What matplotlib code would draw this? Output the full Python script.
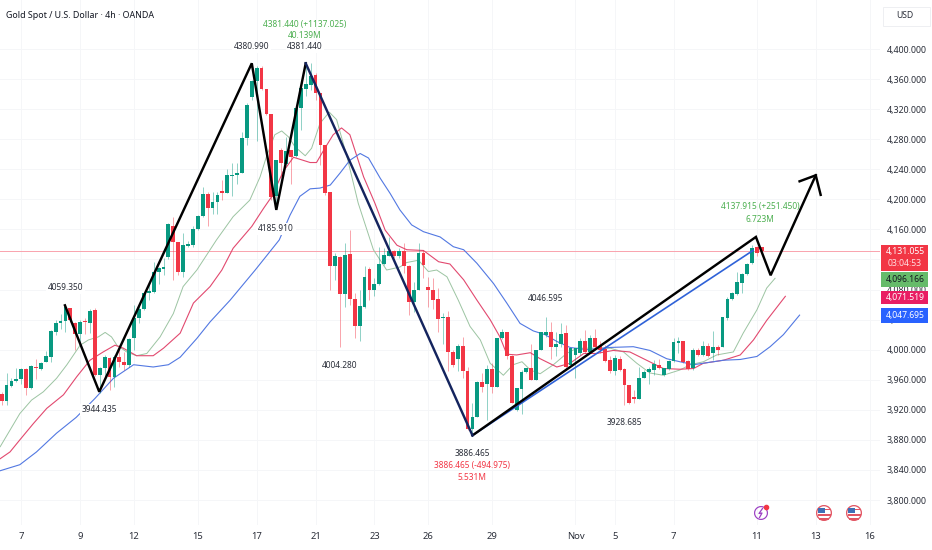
import matplotlib
matplotlib.use('Agg')
import matplotlib.pyplot as plt
from matplotlib.patches import Rectangle, Wedge

plt.rcParams['font.family'] = ['Noto Sans', 'DejaVu Sans']

# 4h candles
opens = [3941, 3932, 3952, 3958, 3961, 3974, 3949, 3977, 3974, 3984, 3990, 4024, 4035, 4038, 4055, 4035,
         4021, 4038, 4036, 4053, 3966, 3975, 3989, 3964, 3990, 3984, 3980, 4015, 4042, 4054, 4076, 4077,
         4104, 4108, 4123, 4165, 4143, 4104, 4138, 4139, 4161, 4178, 4207, 4188, 4197, 4211, 4209, 4231,
         4232, 4235, 4281, 4336, 4357, 4375, 4347, 4314, 4204, 4266, 4247, 4266, 4258, 4322, 4347, 4352,
         4366, 4341, 4272, 4210, 4111, 4123, 4074, 4127, 4068, 4032, 4057, 4108, 4080, 4087, 4114, 4125,
         4131, 4124, 4131, 4111, 4064, 4080, 4128, 4084, 4079, 4067, 4042, 4044, 3997, 3988, 4005, 3972,
         3894, 3911, 3957, 3954, 3974, 3950, 4015, 4024, 3991, 3920, 3948, 3970, 3975, 3960, 4000, 4020,
         4023, 4003, 4008, 4022, 3979, 3993, 3995, 4012, 3997, 4015, 4005, 4001, 3986, 3971, 3988, 3974,
         3953, 3937, 3935, 3962, 3970, 3973, 3980, 3966, 3974, 3985, 4009, 4011, 3985, 3976, 4000, 3993,
         4005, 3995, 4004, 4003, 4042, 4067, 4074, 4089, 4101, 4115, 4136, 4136]
highs = [3944, 3969, 3962, 3975, 3975, 3975, 3980, 3988, 3984, 3998, 4026, 4039, 4048, 4059, 4056, 4037,
         4039, 4042, 4054, 4056, 3977, 3993, 3990, 3993, 4006, 3997, 4015, 4059, 4062, 4077, 4088, 4117,
         4110, 4122, 4168, 4177, 4143, 4155, 4144, 4164, 4179, 4217, 4210, 4210, 4210, 4226, 4241, 4248,
         4248, 4290, 4328, 4359, 4377, 4377, 4347, 4314, 4253, 4268, 4283, 4266, 4323, 4349, 4379, 4381,
         4368, 4341, 4272, 4210, 4129, 4125, 4142, 4159, 4075, 4079, 4111, 4110, 4096, 4136, 4135, 4150,
         4133, 4135, 4142, 4113, 4090, 4142, 4133, 4097, 4095, 4082, 4049, 4051, 4000, 4008, 4017, 3977,
         3929, 3958, 3969, 3980, 3982, 4015, 4028, 4024, 3993, 3949, 3973, 3975, 4008, 4000, 4024, 4044,
         4037, 4024, 4035, 4033, 4002, 4002, 4015, 4026, 4020, 4028, 4012, 4006, 3991, 3993, 3991, 3975,
         3953, 3946, 3977, 3973, 3977, 3986, 3988, 3976, 3986, 4015, 4017, 4011, 3986, 4002, 4002, 4011,
         4009, 4025, 4006, 4044, 4070, 4077, 4104, 4102, 4115, 4139, 4138, 4137]
lows = [3926, 3926, 3951, 3957, 3955, 3940, 3948, 3961, 3973, 3983, 3983, 4020, 4028, 4024, 4037, 4000,
        4006, 4021, 4022, 3965, 3942, 3964, 3946, 3951, 3977, 3973, 3977, 4000, 4035, 4053, 4066, 4075,
        4088, 4100, 4121, 4093, 4099, 4097, 4137, 4137, 4159, 4177, 4164, 4181, 4181, 4199, 4208, 4204,
        4221, 4235, 4272, 4332, 4277, 4345, 4312, 4199, 4188, 4230, 4246, 4221, 4257, 4292, 4337, 4345,
        4332, 4246, 4206, 4079, 4093, 4004, 4057, 4060, 4015, 4011, 4055, 4066, 4071, 4086, 4113, 4124,
        4122, 4122, 4102, 4046, 4050, 4079, 4095, 4057, 4054, 4024, 4008, 3971, 3977, 3971, 3963, 3893,
        3886, 3911, 3944, 3906, 3942, 3950, 4014, 3988, 3929, 3918, 3915, 3969, 3960, 3960, 3999, 4017,
        3988, 3991, 4003, 3975, 3978, 3962, 3993, 3995, 3995, 4000, 3996, 3984, 3969, 3966, 3972, 3926,
        3928, 3929, 3934, 3962, 3955, 3966, 3974, 3965, 3973, 3984, 3995, 3982, 3973, 3973, 3991, 3991,
        3990, 3986, 3993, 4003, 4039, 4066, 4073, 4075, 4099, 4114, 4124, 4126]
closes = [3932, 3953, 3958, 3961, 3974, 3949, 3978, 3975, 3982, 3991, 4025, 4035, 4038, 4057, 4039, 4021,
          4037, 4037, 4052, 3966, 3975, 3990, 3964, 3990, 3984, 3980, 4014, 4042, 4054, 4076, 4078, 4104,
          4109, 4110, 4167, 4143, 4104, 4139, 4141, 4161, 4178, 4207, 4188, 4197, 4206, 4209, 4232, 4232,
          4235, 4281, 4325, 4357, 4375, 4347, 4314, 4203, 4252, 4248, 4264, 4257, 4321, 4348, 4354, 4364,
          4341, 4272, 4209, 4111, 4124, 4074, 4126, 4068, 4032, 4058, 4097, 4080, 4088, 4114, 4126, 4131,
          4124, 4131, 4111, 4064, 4080, 4128, 4113, 4079, 4066, 4041, 4044, 3997, 3980, 4005, 3972, 3895,
          3911, 3957, 3951, 3974, 3950, 4015, 4024, 3991, 3929, 3949, 3970, 3975, 3960, 4000, 4024, 4023,
          4004, 4008, 4021, 3977, 4002, 4002, 4012, 3997, 4015, 4004, 4000, 3985, 3971, 3989, 3973, 3953,
          3929, 3935, 3963, 3970, 3974, 3981, 3975, 3975, 3985, 4010, 4011, 3984, 3974, 3999, 3993, 4005,
          3992, 4003, 3999, 4043, 4068, 4075, 4090, 4101, 4114, 4135, 4129, 4131]

# moving averages, bar position and price
ma_green_x = [-0.3, 1.7, 3.7, 6.1, 8.5, 11.2, 13.3, 16.0, 17.7, 19.7, 21.1, 22.4, 23.5, 25.5, 27.5, 29.6, 32.3,
              35.0, 37.0, 39.8, 43.8, 47.2, 50.6, 52.7, 54.0, 55.7, 57.1, 58.5, 59.8, 61.9, 63.2, 64.9, 66.8,
              68.3, 70.4, 72.7, 75.8, 78.5, 81.2, 82.6, 85.0, 87.0, 88.7, 90.8, 93.1, 95.5, 97.6, 99.6, 102.3,
              104.3, 106.1, 107.8, 109.8, 112.5, 115.2, 117.3, 120.6, 124.1, 126.8, 129.5, 132.2, 134.9, 138.3,
              140.4, 143.1, 145.8, 149.2, 151.2, 154.0, 156.0, 157.7]
ma_green_y = [3871, 3893, 3915, 3933, 3944, 3962, 3980, 4006, 4013, 4017, 4023, 4017, 4006, 3997, 3992, 3995, 4017,
              4048, 4084, 4106, 4146, 4177, 4199, 4230, 4257, 4286, 4291, 4283, 4270, 4258, 4268, 4301, 4316,
              4306, 4257, 4195, 4133, 4106, 4110, 4116, 4119, 4104, 4106, 4097, 4066, 4031, 4013, 3982, 3966,
              3980, 3984, 3973, 3968, 3980, 3995, 4002, 4002, 4002, 3997, 3982, 3969, 3966, 3973,
              3980, 3984, 3993, 3997, 4022, 4053, 4082, 4095]
ma_red_x = [-0.3, 1.7, 3.7, 6.5, 9.2, 12.6, 15.3, 18.0, 20.7, 23.1, 24.8, 27.5, 30.9, 33.0, 36.4, 39.1, 42.5, 44.9,
            47.2, 51.0, 53.4, 55.1, 57.4, 59.5, 62.9, 64.2, 65.9, 67.6, 69.3, 71.0, 73.8, 76.1, 78.2, 80.6, 82.6,
            86.0, 89.1, 91.4, 94.2, 96.9, 99.6, 101.6, 103.0, 105.0, 107.8, 109.8, 113.2, 115.9, 118.7, 121.3,
            124.7, 128.1, 131.5, 134.9, 138.3, 141.1, 143.1, 147.2, 150.6, 153.3, 156.0, 159.8]
ma_red_y = [3855, 3864, 3880, 3902, 3922, 3940, 3964, 3986, 3997, 4006, 4002, 3992, 3992, 4002, 4022, 4062, 4084, 4106,
            4135, 4164, 4188, 4204, 4237, 4256, 4249, 4249, 4268, 4286, 4295, 4286, 4230, 4195, 4159, 4139, 4133,
            4132, 4117, 4114, 4093, 4066, 4040, 4017, 3994, 3993, 3996, 3988, 3977, 3982, 3995, 3995,
            3999, 3997, 3986, 3975, 3974, 3975, 3982, 3986, 3993, 4013, 4039, 4071]
ma_blue_x = [-0.3, 3.7, 7.1, 11.2, 15.2, 19.0, 22.8, 26.9, 30.9, 34.0, 36.4, 39.8, 42.5, 46.6, 51.7, 56.6, 58.8, 60.8,
             62.9, 64.9, 67.0, 69.0, 71.0, 73.1, 74.8, 77.2, 79.2, 81.2, 83.6, 86.0, 89.4, 92.1, 94.2, 96.9, 100.3,
             103.0, 105.7, 108.4, 110.8, 113.2, 115.9, 119.3, 124.1, 128.8, 132.2, 135.6, 138.3, 141.1, 143.1,
             147.2, 150.6, 154.0, 156.7, 159.4, 162.7]
ma_blue_y = [3839, 3847, 3864, 3889, 3910, 3935, 3962, 3980, 3977, 3980, 3990, 4015, 4037, 4066, 4106, 4146, 4179, 4204,
             4214, 4215, 4219, 4235, 4252, 4261, 4255, 4228, 4208, 4186, 4166, 4157, 4150, 4137, 4133, 4115, 4088,
             4062, 4035, 4025, 4020, 4011, 4003, 4000, 4003, 4004, 3999, 3988, 3984, 3980, 3982,
             3986, 3987, 3991, 4004, 4020, 4046]

# hand drawn lines on the chart
zigzag_x = [12.9, 19.9, 51.0, 56.0, 62.0]
zigzag_y = [4059, 3944, 4381, 4186, 4381]
navy_x = [62.0, 96.0]
navy_y = [4381, 3886]
channel_x = [96.0, 153.2]
channel_y = [3886, 4132]
forecast_x = [96.0, 153.8, 156.8, 166.0]
forecast_y = [3886, 4150, 4099, 4232]
arrow_x = [162.7, 166.0, 167.0]
arrow_y = [4224, 4232, 4206]

price_ticks = list(range(3800, 4401, 40))
date_pos = [4, 16, 27, 40, 52, 64, 76, 87, 100, 117, 125, 137, 154, 166, 177]
date_labels = ['7', '9', '12', '15', '17', '21', '23', '26', '29', 'Nov', '5', '7', '11', '13', '16']
last_price = 4131.055

UP = '#089981'
DOWN = '#f23645'
TEXT = '#2a2e39'

fig = plt.figure(figsize=(9.32, 5.5), dpi=100)
ax = fig.add_axes([0, 25 / 550, 880 / 932, 525 / 550])
ax.set_xlim(-0.34, 179.1)
ax.set_ylim(3766.8, 4465.2)

# 4,120 sits fully behind the last price badge
ax.set_yticks(price_ticks)
ax.set_yticklabels(['' if p == 4120 else '{:,.3f}'.format(p) for p in price_ticks])
ax.yaxis.tick_right()
ax.set_xticks(date_pos)
ax.set_xticklabels(date_labels)
ax.tick_params(axis='both', length=0, labelsize=6.4, labelcolor=TEXT)
ax.tick_params(axis='x', pad=5, labelsize=6.8)
ax.tick_params(axis='y', pad=5)
ax.grid(True, color='#f5f6f8', lw=0.7)
ax.set_axisbelow(True)
for s in ax.spines.values():
    s.set_visible(False)

ax.axhline(last_price, color='#f9a3ad', lw=0.7, zorder=1.5, snap=True)

ax.plot(ma_green_x, ma_green_y, color='#9cc4a2', lw=0.7, zorder=2)
ax.plot(ma_red_x, ma_red_y, color='#e2496f', lw=0.8, zorder=2)
ax.plot(ma_blue_x, ma_blue_y, color='#5278e2', lw=0.8, zorder=2)

for i in range(len(opens)):
    col = UP if closes[i] >= opens[i] else DOWN
    ax.vlines(i, lows[i], highs[i], color=col, lw=0.7, alpha=0.45, zorder=2.6)
    ax.bar(i, max(abs(closes[i] - opens[i]), 1.5), bottom=min(opens[i], closes[i]),
           width=0.78, color=col, lw=0, zorder=2.7)

ax.plot(channel_x, channel_y, color='#2f62d8', lw=1.2, zorder=3.5)
ax.plot(forecast_x, forecast_y, color='black', lw=1.75, zorder=3.6, solid_joinstyle='miter')
ax.plot(zigzag_x, zigzag_y, color='black', lw=1.75, zorder=3.6, solid_joinstyle='miter')
ax.plot(navy_x, navy_y, color='#14245e', lw=1.75, zorder=3.7)
ax.plot(arrow_x, arrow_y, color='black', lw=1.75, zorder=3.6, solid_joinstyle='miter')

# overlay in pixels for the text labels, price badges and icons
ov = fig.add_axes([0, 0, 1, 1], facecolor='none')
ov.set_xlim(0, 932)
ov.set_ylim(550, 0)
ov.axis('off')

ov.text(6, 15, 'Gold Spot / U.S. Dollar · 4h · OANDA', fontsize=6.4, color='#131722', va='center', ha='left')

dark_labels = [('4059.350', 65.7, 288), ('3944.435', 99.3, 410), ('4380.990', 251.7, 46.7),
               ('4381.440', 305, 46.7), ('4185.910', 276, 228.7), ('4004.280', 340, 365.7),
               ('4046.595', 545.7, 298.3), ('3886.465', 472, 454), ('3928.685', 624, 422.3)]
for txt, x, y in dark_labels:
    ov.text(x, y, txt, fontsize=6.0, color=TEXT, ha='center', va='center',
            bbox=dict(facecolor='white', edgecolor='none', pad=1.2))

green_labels = [('4381.440 (+1137.025)', 305, 24), ('40.139M', 305, 36),
                ('4137.915 (+251.450)', 760, 207), ('6.723M', 760, 219.3)]
for txt, x, y in green_labels:
    ov.text(x, y, txt, fontsize=6.0, color='#4caf50', ha='center', va='center')
red_labels = [('3886.465 (-494.975)', 472, 465.7), ('5.531M', 472, 477.7)]
for txt, x, y in red_labels:
    ov.text(x, y, txt, fontsize=6.0, color='#f23645', ha='center', va='center')

# USD box
ov.add_patch(Rectangle((883, 7), 47, 19, facecolor='white', edgecolor='#eeeff2', lw=0.7))
ov.text(896, 15, 'USD', fontsize=6.2, color=TEXT, ha='left', va='center')

# price badges
ov.add_patch(Rectangle((881, 245), 47, 25.7, facecolor='#f23645', edgecolor='none'))
ov.text(905, 251.7, '4,131.055', fontsize=6.2, color='white', ha='center', va='center')
ov.text(905, 263.5, '03:04:53', fontsize=6.2, color='#ffdfe2', ha='center', va='center')
ov.add_patch(Rectangle((881, 272.3), 47, 15, facecolor='#66bb6a', edgecolor='none'))
ov.text(905, 279.5, '4,096.166', fontsize=6.2, color='#131722', ha='center', va='center')
ov.add_patch(Rectangle((881, 290.7), 47, 13.5, facecolor='#e91e63', edgecolor='none'))
ov.text(905, 297.5, '4,071.519', fontsize=6.2, color='white', ha='center', va='center')
ov.add_patch(Rectangle((881, 308), 47, 14.7, facecolor='#2962ff', edgecolor='none'))
ov.text(905, 315.3, '4,047.695', fontsize=6.2, color='white', ha='center', va='center')

# icons above the time axis
ov.add_patch(Wedge((761, 513), 7, 0, 360, width=1.2, facecolor='#9c3fc4', edgecolor='none'))
ov.plot([762.5, 759, 762, 759.5], [508.5, 513.5, 513, 517.5], color='#9c3fc4', lw=0.9)
ov.scatter([766], [507], s=9, color='#f23645', zorder=5)
for cx in [824, 854]:
    ov.add_patch(Wedge((cx, 513), 8, 0, 360, width=1.3, facecolor='#e25563', edgecolor='none'))
    ov.add_patch(Rectangle((cx - 6.5, 514), 13, 1.6, facecolor='#e25563', edgecolor='none'))
    ov.add_patch(Rectangle((cx - 5, 518), 10, 1.6, facecolor='#e25563', edgecolor='none'))
    ov.add_patch(Rectangle((cx - 6, 507.5), 6.5, 5.5, facecolor='#3f6fb5', edgecolor='none'))
    ov.add_patch(Rectangle((cx + 0.5, 509), 5.5, 1.4, facecolor='#e25563', edgecolor='none'))

fig.savefig('out.png', dpi=100, facecolor='white')
